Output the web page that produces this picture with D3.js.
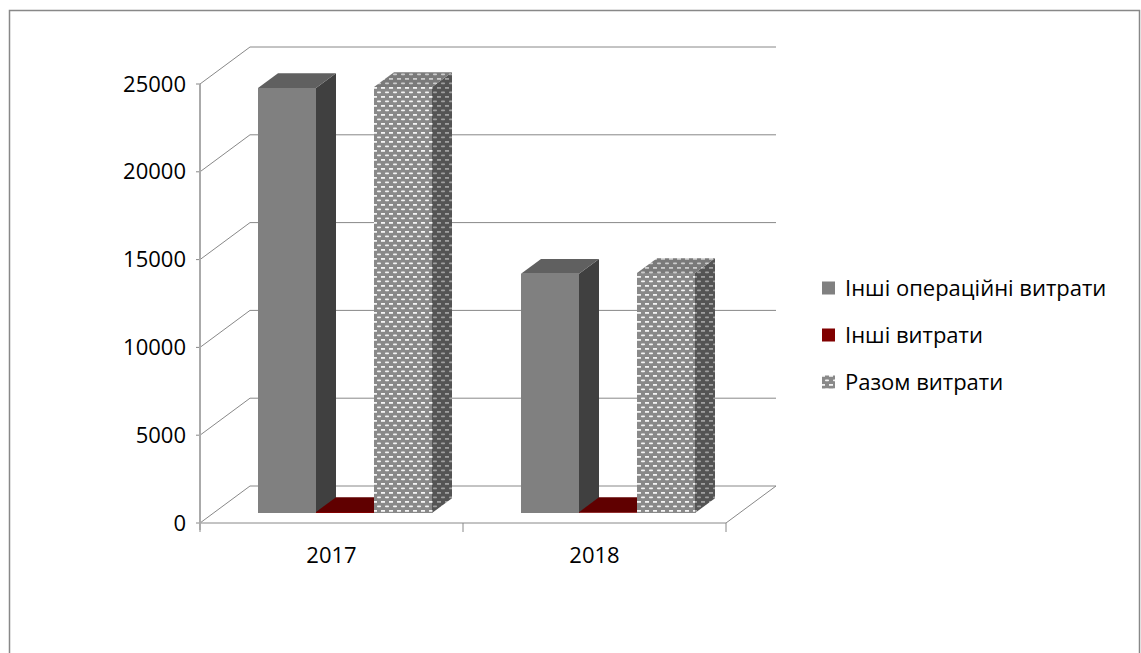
<!DOCTYPE html>
<html>
<head>
<meta charset="utf-8">
<script src="https://cdn.jsdelivr.net/npm/d3@7"></script>
<style>
  body { margin: 0; background: #fff; }
  svg { display: block; font-family: "Open Sans", sans-serif; }
</style>
</head>
<body>
<svg width="1141" height="653"></svg>
<script>
// chart data
const categories = ["2017", "2018"];
const seriesNames = ["Інші операційні витрати", "Інші витрати", "Разом витрати"];
const otherOperating = [24200, 13620];
const otherExpenses = [60, 50];
const totalExpenses = [24260, 13670];
const yTicks = [0, 5000, 10000, 15000, 20000, 25000];

const seriesValues = [otherOperating, otherExpenses, totalExpenses];

const svg = d3.select("svg");
const DX = 50, DY = 37;       // depth of the 3d box
const z0 = 0.27, z1 = 0.67;   // bar front / back depth
const fontSize = "22px";

const y = d3.scaleLinear().domain([0, 25000]).range([523, 84]);
const x0 = d3.scaleBand().domain(categories).range([200, 726]);
const x1 = d3.scaleBand().domain(seriesNames).range([44.5, 218.5]);

const P = (x, v, z) => [x + DX * z, y(v) - DY * z];
const poly = pts => "M" + pts.map(p => p.join(",")).join("L") + "Z";

// patterns for the "Разом витрати" series
const defs = svg.append("defs");
function addPattern(id, bg, dash) {
    const p = defs.append("pattern").attr("id", id)
        .attr("patternUnits", "userSpaceOnUse").attr("width", 8).attr("height", 9);
    p.append("rect").attr("width", 8).attr("height", 9).attr("fill", bg);
    p.append("rect").attr("x", 1).attr("y", 1.5).attr("width", 4).attr("height", 1.8).attr("fill", dash).attr("rx", 0.8);
    p.append("rect").attr("x", 5).attr("y", 6).attr("width", 3).attr("height", 1.8).attr("fill", dash);
    p.append("rect").attr("x", 0).attr("y", 6).attr("width", 1).attr("height", 1.8).attr("fill", dash);
}
addPattern("patFront", "#898989", "#f4f4f4");
addPattern("patSide", "#545454", "#a0a0a0");
addPattern("patTop", "#7a7a7a", "#cccccc");

const colors = [
    { front: "#808080", side: "#404040", top: "#606060" },
    { front: "#800000", side: "#400000", top: "#600000" },
    { front: "url(#patFront)", side: "url(#patSide)", top: "url(#patTop)" }
];

// outer border
svg.append("rect")
    .attr("x", 9.5).attr("y", 10.5)
    .attr("width", 1130).attr("height", 700)
    .attr("fill", "none").attr("stroke", "#888").attr("stroke-width", 1.5);

const grid = svg.append("g").attr("stroke", "#888").attr("stroke-width", 1).attr("fill", "none");
const xL = x0.range()[0], xR = x0.range()[1];

// back wall gridlines and left wall diagonals
yTicks.forEach(t => {
    const a = P(xL, t, 0), b = P(xL, t, 1), c = P(xR, t, 1);
    grid.append("path").attr("d", `M${a}L${b}L${c}`);
    grid.append("line").attr("x1", xL - 4).attr("x2", xL).attr("y1", y(t)).attr("y2", y(t));
});

// floor front edge and right edge
grid.append("path").attr("d", `M${P(xL, 0, 0)}L${P(xR, 0, 0)}L${P(xR, 0, 1)}`);

// y axis line
svg.append("line")
    .attr("x1", xL).attr("x2", xL)
    .attr("y1", y(25000)).attr("y2", y(0) + 7)
    .attr("stroke", "#aaa").attr("stroke-width", 2);

// x ticks
const xTickPos = categories.map(c => x0(c)).concat([xR]);
xTickPos.forEach(px => {
    grid.append("line").attr("x1", px).attr("x2", px).attr("y1", y(0)).attr("y2", y(0) + 9);
});

// y tick labels
svg.append("g").selectAll("text")
    .data(yTicks).enter().append("text")
    .attr("x", 186).attr("y", d => y(d) + 7.5)
    .attr("text-anchor", "end")
    .style("font-size", fontSize)
    .attr("fill", "#000")
    .text(d => d);

// category labels
svg.append("g").selectAll("text")
    .data(categories).enter().append("text")
    .attr("x", d => x0(d) + x0.bandwidth() / 2)
    .attr("y", 563)
    .attr("text-anchor", "middle")
    .style("font-size", fontSize)
    .text(d => d);

// bars, drawn left to right so the right side faces are hidden correctly
const bars = svg.append("g");
categories.forEach((cat, ci) => {
    seriesNames.forEach((s, si) => {
        const v = seriesValues[si][ci];
        const a = x0(cat) + x1(s), b = a + x1.bandwidth();
        const col = colors[si];
        bars.append("path")
            .attr("d", poly([P(a, 0, z0), P(b, 0, z0), P(b, v, z0), P(a, v, z0)]))
            .attr("fill", col.front);
        bars.append("path")
            .attr("d", poly([P(b, 0, z0), P(b, v, z0), P(b, v, z1), P(b, 0, z1)]))
            .attr("fill", col.side);
        bars.append("path")
            .attr("d", poly([P(a, v, z0), P(b, v, z0), P(b, v, z1), P(a, v, z1)]))
            .attr("fill", col.top);
    });
});

// legend
const legend = svg.append("g");
seriesNames.forEach((s, i) => {
    const ly = 288 + i * 47;
    legend.append("rect")
        .attr("x", 822).attr("y", ly - 6.5)
        .attr("width", 13).attr("height", 13)
        .attr("fill", colors[i].front);
    legend.append("text")
        .attr("x", 845).attr("y", ly + 7.5)
        .style("font-size", fontSize)
        .text(s);
});
</script>
</body>
</html>
